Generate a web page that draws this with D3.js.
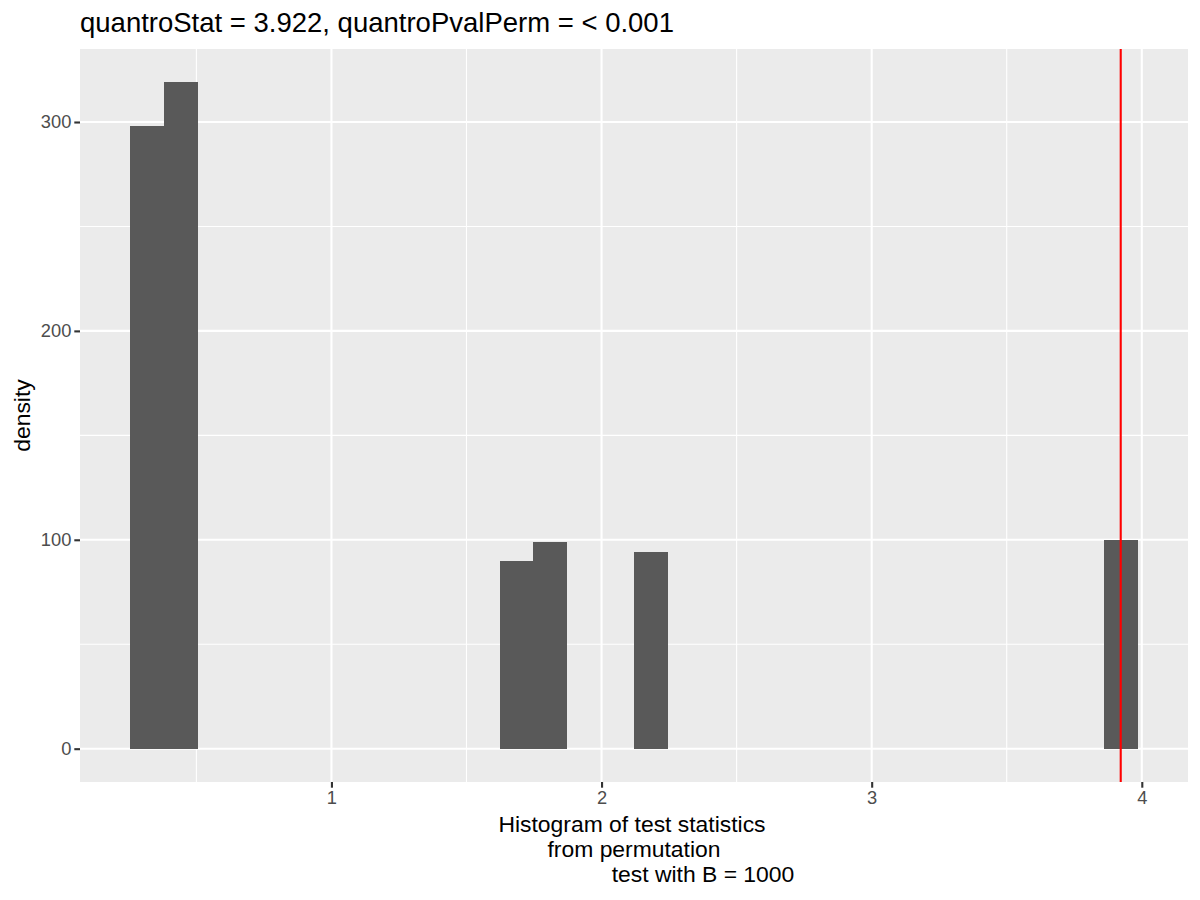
<!DOCTYPE html>
<html>
<head>
<meta charset="utf-8">
<script src="https://cdn.jsdelivr.net/npm/d3@7"></script>
<style>
  body { margin: 0; background: #fff; }
  svg text { font-family: "Liberation Sans", Arial, sans-serif; }
</style>
</head>
<body>
<svg id="chart" width="1200" height="900"></svg>
<script>
// Histogram of permutation statistics (30 bins)
const binStart = 0.2556;
const binWidth = 0.1243;
const counts = [298, 319, 0, 0, 0, 0, 0, 0, 0, 0,
                0, 90, 99, 0, 0, 94, 0, 0, 0, 0,
                0, 0, 0, 0, 0, 0, 0, 0, 0, 100];
const quantroStat = 3.922;
const xTicks = [1, 2, 3, 4];
const yTicks = [0, 100, 200, 300];
const xMinor = [0.5, 1.5, 2.5, 3.5];
const yMinor = [50, 150, 250];
const titleText = 'quantroStat = 3.922, quantroPvalPerm = < 0.001';
const xLabelLines = ['Histogram of test statistics', 'from permutation', 'test with B = 1000'];
const xLabelShift = [-2, 0, 69];

const margin = {top: 49, right: 12, bottom: 118, left: 80};
const width = 1200 - margin.left - margin.right;
const height = 900 - margin.top - margin.bottom;

const bins = counts.map((c, i) => ({x0: binStart + i * binWidth, x1: binStart + (i + 1) * binWidth, count: c}));

const xLo = binStart, xHi = binStart + counts.length * binWidth;
const xPad = (xHi - xLo) * 0.05;
const yMax = d3.max(counts);
const x = d3.scaleLinear().domain([xLo - xPad, xHi + xPad]).range([0, width]);
const y = d3.scaleLinear().domain([-yMax * 0.05, yMax * 1.05]).range([height, 0]);

const svg = d3.select('#chart');
const g = svg.append('g').attr('transform', `translate(${margin.left},${margin.top})`);

// panel background
g.append('rect').attr('width', width).attr('height', height).attr('fill', '#ebebeb');

// minor grid
g.selectAll('.xminor').data(xMinor).enter().append('line')
    .attr('x1', d => x(d)).attr('x2', d => x(d))
    .attr('y1', 0).attr('y2', height)
    .attr('stroke', '#fff').attr('stroke-width', 1.1);
g.selectAll('.yminor').data(yMinor).enter().append('line')
    .attr('y1', d => y(d)).attr('y2', d => y(d))
    .attr('x1', 0).attr('x2', width)
    .attr('stroke', '#fff').attr('stroke-width', 1.1);

// major grid
g.selectAll('.xmajor').data(xTicks).enter().append('line')
    .attr('x1', d => x(d)).attr('x2', d => x(d))
    .attr('y1', 0).attr('y2', height)
    .attr('stroke', '#fff').attr('stroke-width', 2.1);
g.selectAll('.ymajor').data(yTicks).enter().append('line')
    .attr('y1', d => y(d)).attr('y2', d => y(d))
    .attr('x1', 0).attr('x2', width)
    .attr('stroke', '#fff').attr('stroke-width', 2.1);

// bars
g.selectAll('.bar').data(bins.filter(b => b.count > 0)).enter().append('rect')
    .attr('x', d => x(d.x0))
    .attr('width', d => x(d.x1) - x(d.x0))
    .attr('y', d => y(d.count))
    .attr('height', d => y(0) - y(d.count))
    .attr('fill', '#595959')
    .attr('shape-rendering', 'crispEdges');

// observed statistic
g.append('line')
    .attr('x1', x(quantroStat)).attr('x2', x(quantroStat))
    .attr('y1', 0).attr('y2', height)
    .attr('stroke', '#ff0000').attr('stroke-width', 2.1);

// axes
const xAxis = g.append('g').attr('transform', `translate(0,${height})`)
    .call(d3.axisBottom(x).tickValues(xTicks).tickFormat(d3.format('d')).tickSize(5.7).tickPadding(3));
const yAxis = g.append('g')
    .call(d3.axisLeft(y).tickValues(yTicks).tickFormat(d3.format('d')).tickSize(5.7).tickPadding(3));
[xAxis, yAxis].forEach(a => {
    a.select('.domain').remove();
    a.selectAll('line').attr('stroke', '#333').attr('stroke-width', 2.1);
    a.selectAll('text').attr('fill', '#4d4d4d').style('font-size', '18.3px')
        .style('font-family', '"Liberation Sans", Arial, sans-serif');
});

// title
svg.append('text')
    .attr('x', margin.left).attr('y', 32)
    .style('font-size', '27.5px').attr('fill', '#000')
    .text(titleText);

// y label
svg.append('text')
    .attr('transform', `translate(30,${margin.top + height / 2}) rotate(-90)`)
    .attr('text-anchor', 'middle')
    .style('font-size', '22.9px')
    .text('density');

// x label (three lines)
svg.selectAll('.xlab').data(xLabelLines).enter().append('text')
    .attr('x', (d, i) => margin.left + width / 2 + xLabelShift[i])
    .attr('y', (d, i) => 832 + i * 25)
    .attr('text-anchor', 'middle')
    .style('font-size', '22.9px')
    .text(d => d);
</script>
</body>
</html>
